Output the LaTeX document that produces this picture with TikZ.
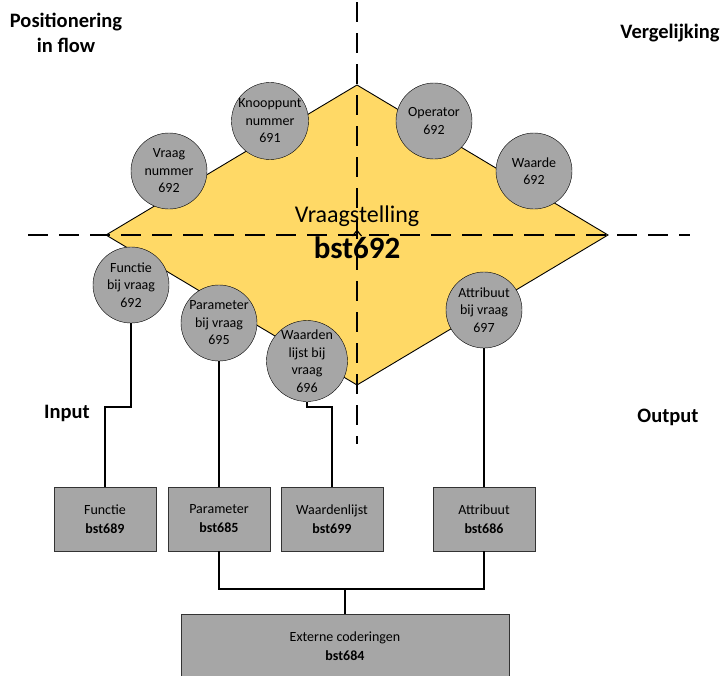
\documentclass[tikz,border=0pt]{standalone}
\usepackage{fontspec}
\setmainfont{Carlito}
\usepackage{tikz}
\usetikzlibrary{calc}
\definecolor{geel}{HTML}{FFD966}
\definecolor{grijs}{HTML}{A6A6A6}

\begin{document}
\begin{tikzpicture}[x=1pt,y=-1pt,
    bol/.style={circle,draw=black,fill=grijs,minimum size=76pt,inner sep=0pt,
      align=center,font=\fontsize{14}{17.5}\selectfont},
    blok/.style={draw=black!80,fill=grijs,minimum width=102pt,minimum height=64pt,
      inner sep=0pt,align=center,font=\fontsize{14}{19}\selectfont},
    as/.style={line width=2.3pt,dash pattern=on 20pt off 11pt},
    kop/.style={anchor=base,align=center,font=\fontsize{20.5}{25}\selectfont\bfseries},
    lijn/.style={line width=1.3pt}]
        \useasboundingbox (0,0) rectangle (728,675);
        % vraagstelling ruit
        \draw[fill=geel,line width=0.9pt] (106,235) -- (357,85) -- (608,235) -- (357,385) -- cycle;
        \node[anchor=base,font=\fontsize{24}{27}\selectfont] (vs) at (357,222) {Vraagstelling};
        \node[anchor=base,font=\fontsize{31}{34}\selectfont\bfseries] (vsbst) at (357,258) {bst692};
        % assen
        \draw[as] (28,235) -- (690,235);
        \draw[as] (357,2) -- (357,444);
        \draw[line width=1.2pt] (352.5,236) -- (357,230.5) -- (361.5,236);
        % kwadranten
        \node[kop] (pos) at (66,52) {Positionering\\in flow};
        \node[kop] (verg) at (670,38) {Vergelijking};
        \node[kop] (inp) at (67,418) {Input};
        \node[kop] (outp) at (668,422) {Output};
        % attributen van de vraag
        \node[bol] (vnr) at (169,171) {Vraag\\nummer\\692};
        \node[bol] (knr) at (270,121) {Knooppunt\\nummer\\691};
        \node[bol] (opr) at (434,121) {Operator\\692};
        \node[bol] (wrd) at (534,171) {Waarde\\692};
        \node[bol] (fbv) at (131,285) {Functie\\bij vraag\\692};
        \node[bol] (pbv) at (219,323) {Parameter\\bij vraag\\695};
        \node[bol] (wlv) at (307,361) {Waarden\\lijst bij\\vraag\\696};
        \node[bol] (abv) at (484,310) {Attribuut\\bij vraag\\697};
        % bestanden
        \node[blok] (functie) at (105,519) {Functie\\\textbf{bst689}};
        \node[blok] (parameter) at (219,519) {Parameter\\\textbf{bst685}};
        \node[blok] (waardenlijst) at (332,519) {Waardenlijst\\\textbf{bst699}};
        \node[blok] (attribuut) at (484,519) {Attribuut\\\textbf{bst686}};
        \node[blok,minimum width=328pt] (extern) at (345,646) {Externe coderingen\\\textbf{bst684}};
        % verbindingen
        \coordinate (knikin) at (0,407);
        \coordinate (knikuit) at (0,589);
        \draw[lijn] (fbv.south) -- (fbv.south |- knikin) -| (functie.north);
        \draw[lijn] (pbv.south) -- (parameter.north);
        \draw[lijn] (wlv.south) -- (wlv.south |- knikin) -| (waardenlijst.north);
        \draw[lijn] (abv.south) -- (attribuut.north);
        \draw[lijn] (parameter.south) -- (parameter.south |- knikuit) -| (attribuut.south);
        \draw[lijn] (extern.north) -- (extern.north |- knikuit);
\end{tikzpicture}
\end{document}
